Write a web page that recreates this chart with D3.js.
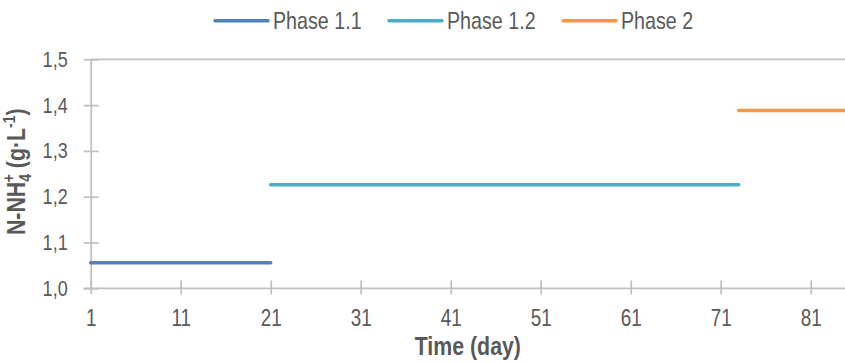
<!DOCTYPE html>
<html>
<head>
<meta charset="utf-8">
<script src="https://cdn.jsdelivr.net/npm/d3@7"></script>
<style>
  html, body { margin: 0; padding: 0; background: #fff; }
  svg { display: block; }
  text { font-family: "Liberation Sans Narrow", "Arial Narrow", "Liberation Sans", Arial, sans-serif; fill: #595959; }
</style>
</head>
<body>
<svg id="chart" width="845" height="362"></svg>
<script>
// Ammonium concentration per operating phase (g·L-1), as flat segments over days
const seriesNames = ["Phase 1.1", "Phase 1.2", "Phase 2"];
const seriesColors = ["#4f81bd", "#4bacc6", "#f79646"];
const phaseStartDay = [1, 21, 73];
const phaseEndDay = [21, 73, 85];
const phaseValue = [1.056, 1.226, 1.388];
const xTicks = [1, 11, 21, 31, 41, 51, 61, 71, 81];
const yTicks = [1.0, 1.1, 1.2, 1.3, 1.4, 1.5];

const svg = d3.select("#chart");
const W = 845, H = 362;
const axisColor = "#c0c0c0";
const NARROW = 0.82; // horizontal condense factor for the narrow typeface look

// Condense a text element horizontally around its own x anchor
function condense(sel) {
  sel.each(function () {
    const t = d3.select(this);
    const x0 = +t.attr("x") || 0;
    t.attr("transform", `translate(${x0},0) scale(${NARROW},1) translate(${-x0},0)`);
  });
}

const x = d3.scaleLinear().domain([1, 85]).range([90.7, 846.7]);
const y = d3.scaleLinear().domain([1.0, 1.5]).range([288.3, 59.3]);

// Top frame line
svg.append("line")
  .attr("x1", x(1)).attr("x2", W)
  .attr("y1", y(1.5)).attr("y2", y(1.5))
  .attr("stroke", axisColor).attr("stroke-width", 1.75);

// Y axis
const yAxis = d3.axisLeft(y).tickValues(yTicks)
  .tickFormat(d => d3.format(".1f")(d).replace(".", ","))
  .tickSizeInner(7).tickSizeOuter(0).tickPadding(16);
const gy = svg.append("g").attr("transform", `translate(${x(1)},0)`).call(yAxis);
gy.select(".domain").attr("stroke", axisColor).attr("stroke-width", 1.75);
gy.selectAll(".tick line").attr("stroke", axisColor).attr("stroke-width", 1.75)
  .attr("x1", 8).attr("x2", -7);
gy.selectAll(".tick text").style("font-size", "22px").attr("fill", "#595959")
  .attr("font-family", null).call(condense);

// X axis
const xAxis = d3.axisBottom(x).tickValues(xTicks)
  .tickSizeInner(6).tickSizeOuter(0).tickPadding(15);
const gx = svg.append("g").attr("transform", `translate(0,${y(1.0)})`).call(xAxis);
gx.select(".domain").attr("stroke", axisColor).attr("stroke-width", 1.75)
  .attr("d", `M${x(1) - 7},0H${W}`);
gx.selectAll(".tick line").attr("stroke", axisColor).attr("stroke-width", 1.75)
  .attr("y1", -8).attr("y2", 6);
gx.selectAll(".tick text").style("font-size", "23px").attr("fill", "#595959")
  .attr("font-family", null).call(condense);

// Phase segments
const segs = seriesNames.map((n, i) => ({
  name: n, color: seriesColors[i],
  pts: [[phaseStartDay[i], phaseValue[i]], [phaseEndDay[i], phaseValue[i]]]
}));
const line = d3.line().x(d => x(d[0])).y(d => y(d[1]));
svg.append("g").selectAll("path").data(segs).join("path")
  .attr("d", d => line(d.pts))
  .attr("fill", "none")
  .attr("stroke", d => d.color)
  .attr("stroke-width", 3.5)
  .attr("stroke-linecap", "round");

// Legend
const legendX = [215, 389, 563];
const lg = svg.append("g");
segs.forEach((d, i) => {
  lg.append("line")
    .attr("x1", legendX[i]).attr("x2", legendX[i] + 53)
    .attr("y1", 20.7).attr("y2", 20.7)
    .attr("stroke", d.color).attr("stroke-width", 3.5).attr("stroke-linecap", "round");
  lg.append("text")
    .attr("x", legendX[i] + 58).attr("y", 29.3)
    .style("font-size", "24px")
    .text(d.name)
    .call(condense);
});

// Axis titles
svg.append("text")
  .attr("x", (x(1) + W) / 2).attr("y", 355)
  .attr("text-anchor", "middle")
  .style("font-size", "26px").style("font-weight", "bold")
  .text("Time (day)")
  .call(condense);

const yt = svg.append("text")
  .attr("transform", `translate(25,${(y(1.0) + y(1.5)) / 2 - 2}) rotate(-90) scale(${NARROW},1)`)
  .attr("text-anchor", "middle")
  .style("font-size", "26px").style("font-weight", "bold");
yt.append("tspan").text("N-NH");
yt.append("tspan").text("4").attr("dy", 6).style("font-size", "17px");
yt.append("tspan").text("+").attr("dy", -17).attr("dx", -10).style("font-size", "17px");
yt.append("tspan").text(" (g·L").attr("dy", 11);
yt.append("tspan").text("-1").attr("dy", -10).style("font-size", "17px");
yt.append("tspan").text(")").attr("dy", 10);
</script>
</body>
</html>
